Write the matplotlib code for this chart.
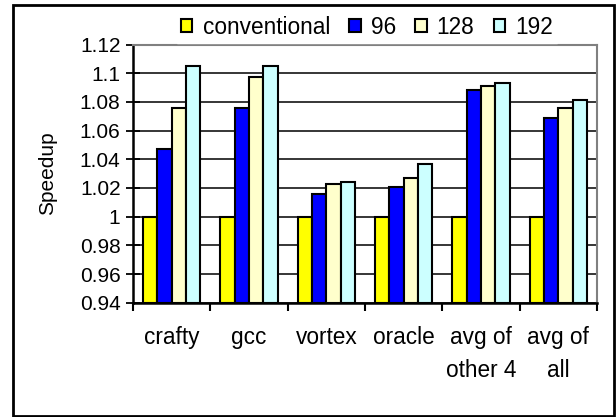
import numpy as np
import matplotlib
matplotlib.use('Agg')
from matplotlib import pyplot as plt
from matplotlib.patches import Rectangle

# speedup per benchmark for each configuration
benchmarks = ['crafty', 'gcc', 'vortex', 'oracle', 'avg of\nother 4', 'avg of\nall']
conventional = [1.0, 1.0, 1.0, 1.0, 1.0, 1.0]
s96 = [1.047, 1.076, 1.016, 1.021, 1.088, 1.069]
s128 = [1.076, 1.097, 1.023, 1.027, 1.091, 1.076]
s192 = [1.105, 1.105, 1.024, 1.037, 1.093, 1.0815]
series = [('conventional', conventional, '#FFFF00'),
          ('96', s96, '#0000FF'),
          ('128', s128, '#FFFFCC'),
          ('192', s192, '#CCFFFF')]
yticks = [0.94, 0.96, 0.98, 1, 1.02, 1.04, 1.06, 1.08, 1.1, 1.12]
ytick_labels = ['0.94', '0.96', '0.98', '1', '1.02', '1.04', '1.06', '1.08', '1.1', '1.12']

plt.rcParams['font.family'] = ['Liberation Sans', 'DejaVu Sans']

W, H = 616, 417
fig = plt.figure(figsize=(W / 100, H / 100), dpi=100)
ax = fig.add_axes([133 / W, 1 - 302.7 / H, (597 - 133) / W, (302.7 - 44.5) / H])

x = np.arange(len(benchmarks))
bw = 0.186
base = 0.94
for i, (name, vals, col) in enumerate(series):
    heights = [v - base for v in vals]
    ax.bar(x + (i - 1.5) * bw, heights, bw, bottom=base, color=col,
           edgecolor='black', linewidth=1.5, label=name, zorder=3)

ax.set_xlim(-0.5, len(benchmarks) - 0.5)
ax.set_ylim(0.94, 1.12)
ax.set_yticks(yticks)
ax.set_yticklabels(ytick_labels, fontsize=15)
ax.yaxis.grid(True, color='black', linewidth=1.1, zorder=0)
ax.tick_params(axis='y', direction='inout', length=10, width=1.3, pad=4)

# category boundaries carry the tick marks, names sit between them
ax.set_xticks(np.arange(len(benchmarks) + 1) - 0.5)
ax.set_xticklabels([])
ax.set_xticks(x, minor=True)
ax.set_xticklabels(benchmarks, minor=True, fontsize=16.3, linespacing=1.55)
ax.tick_params(axis='x', which='major', direction='out', length=6, width=1.5)
ax.tick_params(axis='x', which='minor', length=0, pad=17)

ax.spines['left'].set_linewidth(1.8)
ax.spines['bottom'].set_linewidth(1.8)
for s in ('top', 'right'):
    ax.spines[s].set_color('#808080')
    ax.spines[s].set_linewidth(1.5)

ax.set_ylabel('Speedup', fontsize=15)
ax.yaxis.set_label_coords(-0.164, 0.5)

leg = fig.legend(loc='center', bbox_to_anchor=(367 / W, 1 - 27 / H), ncol=4,
                 fontsize=16.3, frameon=True, fancybox=False, edgecolor='white',
                 facecolor='white', framealpha=1, handlelength=0.5, handleheight=0.5,
                 handletextpad=0.45, columnspacing=0.85, borderpad=0.2)
for h in leg.legend_handles:
    h.set_linewidth(1.5)

# chart border
fig.patches.append(Rectangle((13 / W, 1 - 416 / H), (614 - 13) / W, (416 - 5) / H,
                             transform=fig.transFigure, fill=False,
                             edgecolor='black', linewidth=2))

plt.savefig('out.png', dpi=100)
